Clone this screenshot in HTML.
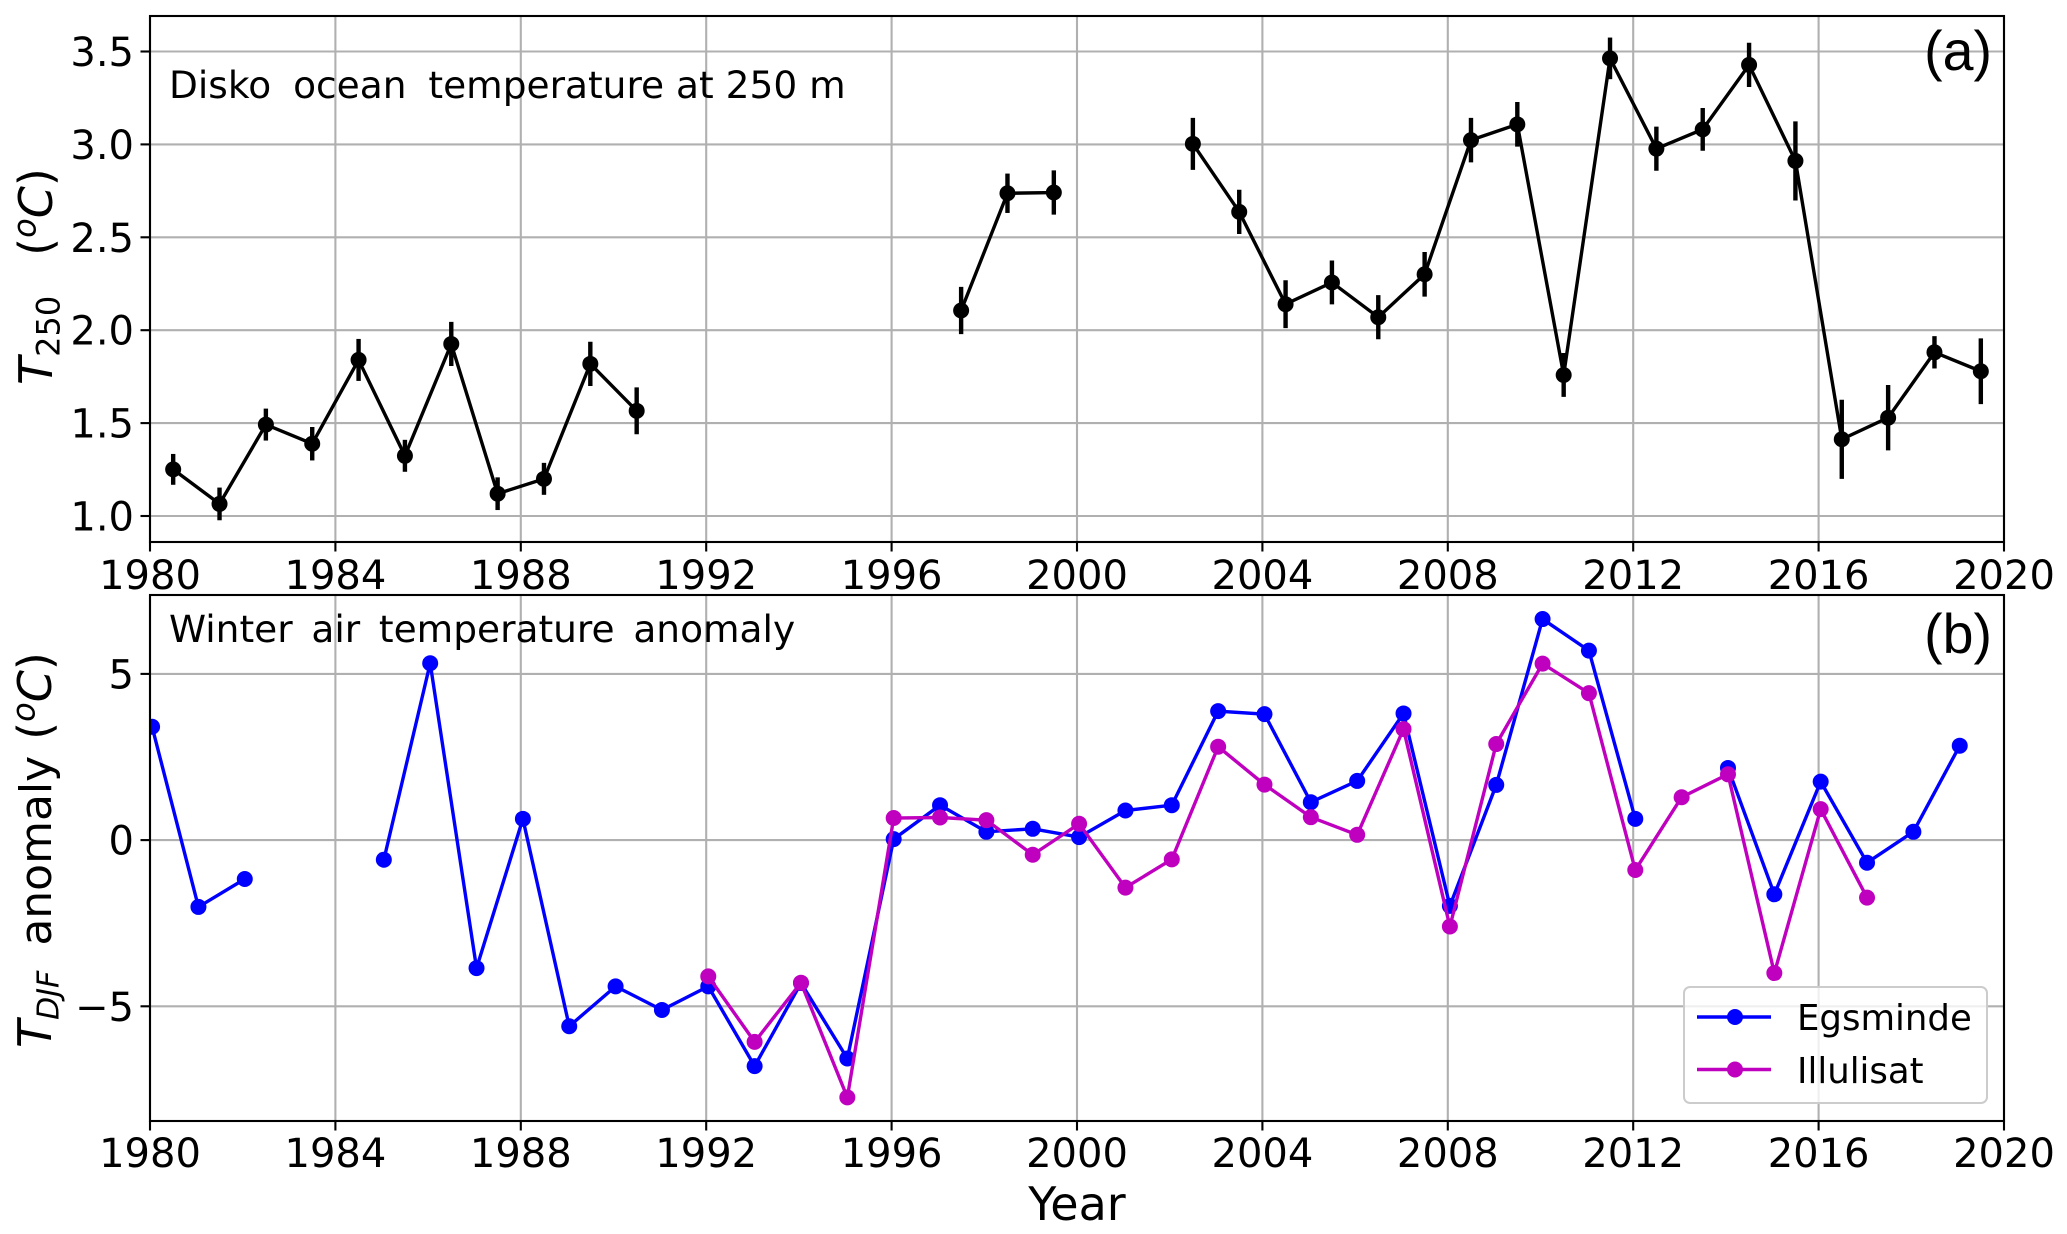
<!DOCTYPE html>
<html lang="en">
<head>
<meta charset="utf-8">
<title>Disko ocean and winter air temperature</title>
<style>
html,body{margin:0;padding:0;background:#fff;}
svg{display:block;}
text{font-family:"DejaVu Sans","Liberation Sans",sans-serif;fill:#000;}
.tick{font-size:40px;}
.note{font-size:37.5px;}
.axt{font-size:46px;}
.panel{font-family:"Liberation Sans",Arial,sans-serif;font-size:55.5px;}
.leg{font-size:35.5px;}
.it{font-style:italic;}
</style>
</head>
<body>
<svg id="fig" xmlns="http://www.w3.org/2000/svg" width="2067" height="1234" viewBox="0 0 2067 1234">
  <defs>
    <clipPath id="clipA"><rect x="150" y="16" width="1854" height="526"/></clipPath>
    <clipPath id="clipB"><rect x="150" y="595" width="1854" height="526"/></clipPath>
  </defs>
  <rect width="2067" height="1234" fill="#fff"/>
  <g id="panelA"></g>
  <g id="panelB"></g>

  <text class="note" x="169" y="98">Disko <tspan dx="10">ocean</tspan> <tspan dx="10">temperature</tspan> at 250 m</text>
  <text class="panel" x="1992" y="70" text-anchor="end">(a)</text>
  <text class="axt" transform="translate(52,385) rotate(-90)"><tspan class="it">T</tspan><tspan dy="7.6" font-size="32">250</tspan><tspan dy="-7.6" dx="40">(</tspan><tspan class="it" dy="-16.7" font-size="32">o</tspan><tspan class="it" dy="16.7">C</tspan><tspan>)</tspan></text>

  <text class="note" x="169" y="642" word-spacing="6.8">Winter air temperature anomaly</text>
  <text class="panel" x="1992" y="653" text-anchor="end">(b)</text>
  <text class="axt" transform="translate(51,1048) rotate(-90)"><tspan class="it">T</tspan><tspan class="it" dy="7.6" font-size="30">DJF</tspan><tspan dy="-7.6" dx="25" font-size="44">anomaly</tspan><tspan dx="16">(</tspan><tspan class="it" dy="-16.7" font-size="32">o</tspan><tspan class="it" dy="16.7">C</tspan><tspan>)</tspan></text>
  <text class="axt" x="1077" y="1220" text-anchor="middle">Year</text>

  <g>
    <rect x="1684" y="987" width="303" height="116" rx="6" ry="6" fill="#fff" fill-opacity="0.8" stroke="#cccccc" stroke-width="2"/>
    <g>
      <line x1="1697" y1="1017" x2="1771" y2="1017" stroke="#0000ff" stroke-width="3.4"/>
      <circle cx="1735" cy="1017" r="8" fill="#0000ff"/>
      <text class="leg" x="1797" y="1030">Egsminde</text>
    </g>
    <g>
      <line x1="1697" y1="1069.5" x2="1771" y2="1069.5" stroke="#bf00bf" stroke-width="3.4"/>
      <circle cx="1735" cy="1069.5" r="8" fill="#bf00bf"/>
      <text class="leg" x="1797" y="1083">Illulisat</text>
    </g>
  </g>
</svg>
<script>
// ---- Panel (a) data: Disko ocean temperature at 250 m ----
const oceanYears = [1980.5,1981.5,1982.5,1983.5,1984.5,1985.5,1986.5,1987.5,1988.5,1989.5,1990.5,null,
  1997.5,1998.5,1999.5,null,
  2002.5,2003.5,2004.5,2005.5,2006.5,2007.5,2008.5,2009.5,2010.5,2011.5,2012.5,2013.5,2014.5,2015.5,2016.5,2017.5,2018.5,2019.5];
const oceanTemp = [1.251,1.065,1.492,1.389,1.84,1.324,1.926,1.12,1.20,1.819,1.566,null,
  2.106,2.737,2.741,null,
  3.003,2.637,2.14,2.257,2.07,2.301,3.023,3.108,1.759,3.463,2.977,3.081,3.428,2.911,1.413,1.529,1.881,1.779];
const oceanErr = [0.083,0.088,0.086,0.09,0.113,0.086,0.119,0.088,0.086,0.119,0.126,null,
  0.127,0.106,0.119,null,
  0.14,0.119,0.129,0.118,0.119,0.12,0.12,0.12,0.118,0.112,0.119,0.115,0.119,0.213,0.213,0.176,0.087,0.177];

// ---- Panel (b) data: winter air temperature anomaly ----
const egsmindeYears = [1980,1981,1982,null,1985,1986,1987,1988,1989,1990,1991,1992,1993,1994,1995,1996,1997,1998,1999,2000,2001,2002,2003,2004,2005,2006,2007,2008,2009,2010,2011,2012,null,2014,2015,2016,2017,2018,2019];
const egsmindeAnomaly = [3.41,-2.01,-1.17,null,-0.59,5.32,-3.85,0.64,-5.60,-4.40,-5.11,-4.40,-6.80,-4.30,-6.57,0.03,1.05,0.25,0.34,0.09,0.89,1.05,3.88,3.79,1.14,1.78,3.81,-1.98,1.66,6.65,5.70,0.64,null,2.17,-1.63,1.76,-0.68,0.25,2.84];
const illulisatYears = [1992,1993,1994,1995,1996,1997,1998,1999,2000,2001,2002,2003,2004,2005,2006,2007,2008,2009,2010,2011,2012,2013,2014,2015,2016,2017];
const illulisatAnomaly = [-4.10,-6.07,-4.29,-7.74,0.665,0.68,0.60,-0.44,0.49,-1.43,-0.58,2.81,1.67,0.69,0.16,3.34,-2.60,2.89,5.31,4.42,-0.90,1.29,1.98,-4.00,0.93,-1.73];

// ---- Tick labels ----
const xTickYears = [1980,1984,1988,1992,1996,2000,2004,2008,2012,2016,2020];
const yTicksA = [1.0,1.5,2.0,2.5,3.0,3.5];
const yTicksALabels = ["1.0","1.5","2.0","2.5","3.0","3.5"];
const yTicksB = [-5,0,5];
const yTicksBLabels = ["\u22125","0","5"];

// ---- Axis functions ----
const NS = "http://www.w3.org/2000/svg";
function xScale(year){ return 150 + (year - 1980) * (2004 - 150) / 40; }
function yScaleA(v){ return 516 - (v - 1) * 185.8; }
function yScaleB(v){ return 840.1 - v * 33.24; }
const januaryOffset = 0.045;

function mk(parent, tag, attrs, txt){
  const el = document.createElementNS(NS, tag);
  for (const k in attrs) el.setAttribute(k, attrs[k]);
  if (txt !== undefined) el.textContent = txt;
  parent.appendChild(el);
  return el;
}

function drawFrame(g, top, bottom, yScale, yVals, yLabels, labelBaseline){
  xTickYears.forEach(function(yr){
    const x = xScale(yr);
    const gl = mk(g, "line", {x1:x, x2:x, y1:top, y2:bottom, stroke:"#b0b0b0", "stroke-width":2.1});
    
    
    const t = mk(g, "line", {x1:x, x2:x, y1:bottom, y2:bottom + 9.5, stroke:"#000", "stroke-width":2.1});
    
    
    const lb = mk(g, "text", {x:x, y:labelBaseline, "text-anchor":"middle", "class":"tick"}, String(yr));
    
    
  });
  yVals.forEach(function(v, i){
    const y = yScale(v);
    const gl = mk(g, "line", {x1:150, x2:2004, y1:y, y2:y, stroke:"#b0b0b0", "stroke-width":2.1});
    
    
    const t = mk(g, "line", {x1:140.5, x2:150, y1:y, y2:y, stroke:"#000", "stroke-width":2.1});
    
    
    const lb = mk(g, "text", {x:134, y:y + 14.5, "text-anchor":"end", "class":"tick"}, yLabels[i]);
    
    
  });
}

function drawSpines(g, top, bottom){
  const r = mk(g, "rect", {x:150, y:top, width:1854, height:bottom - top, fill:"none", stroke:"#000", "stroke-width":2.1});
  
  
}

function segments(xs, ys, xf, yf){
  let d = "", pen = false;
  xs.forEach(function(x, i){
    if (x === null || ys[i] === null) { pen = false; return; }
    d += (pen ? "L" : "M") + xf(x).toFixed(2) + " " + yf(ys[i]).toFixed(2);
    pen = true;
  });
  return d;
}

// ---- Panel (a) ----
const gA = document.getElementById("panelA");
drawFrame(gA, 16, 542, yScaleA, yTicksA, yTicksALabels, 589);
const marksA = mk(gA, "g", {"clip-path":"url(#clipA)"});


const lineA = mk(marksA, "path", {d:segments(oceanYears, oceanTemp, xScale, yScaleA), fill:"none", stroke:"#000", "stroke-width":3.4, "stroke-linejoin":"miter"});


oceanYears.forEach(function(yr, i){
  if (yr === null) return;
  const x = xScale(yr), v = oceanTemp[i], e = oceanErr[i];
  const bar = mk(marksA, "line", {x1:x, x2:x, y1:yScaleA(v + e), y2:yScaleA(v - e), stroke:"#000", "stroke-width":4.4});
  
  
  const pt = mk(marksA, "circle", {cx:x, cy:yScaleA(v), r:8, fill:"#000"});
  
  
});
drawSpines(gA, 16, 542);

// ---- Panel (b) ----
const gB = document.getElementById("panelB");
drawFrame(gB, 595, 1121, yScaleB, yTicksB, yTicksBLabels, 1167);
const marksB = mk(gB, "g", {"clip-path":"url(#clipB)"});


function xB(y){ return xScale(y + januaryOffset); }

const lineEgs = mk(marksB, "path", {d:segments(egsmindeYears, egsmindeAnomaly, xB, yScaleB), fill:"none", stroke:"#0000ff", "stroke-width":3.4});


egsmindeYears.forEach(function(yr, i){
  if (yr === null) return;
  const pt = mk(marksB, "circle", {cx:xB(yr), cy:yScaleB(egsmindeAnomaly[i]), r:8, fill:"#0000ff"});
  
  
});
const lineIll = mk(marksB, "path", {d:segments(illulisatYears, illulisatAnomaly, xB, yScaleB), fill:"none", stroke:"#bf00bf", "stroke-width":3.4});


illulisatYears.forEach(function(yr, i){
  const pt = mk(marksB, "circle", {cx:xB(yr), cy:yScaleB(illulisatAnomaly[i]), r:8, fill:"#bf00bf"});
  
  
});
drawSpines(gB, 595, 1121);
</script>
</body>
</html>
